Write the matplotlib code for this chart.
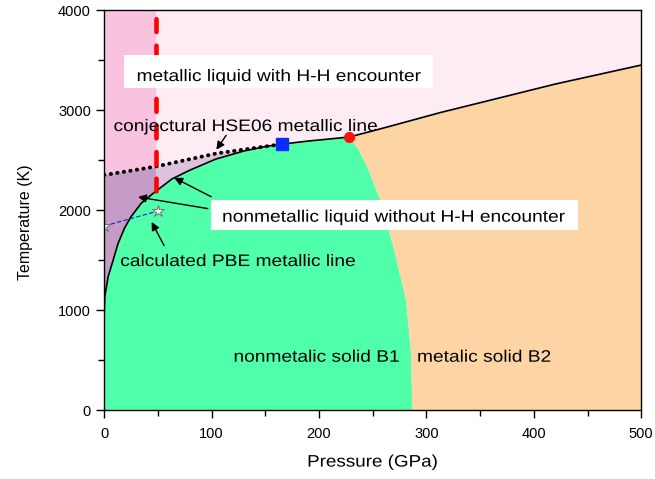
import matplotlib.pyplot as plt
import numpy as np
from matplotlib.patches import Rectangle
from matplotlib.patheffects import AbstractPathEffect
from matplotlib.ticker import MultipleLocator
from matplotlib.transforms import Affine2D

plt.rcParams['font.family'] = ['Liberation Sans', 'DejaVu Sans']


class Widen(AbstractPathEffect):
    """Stretch text horizontally about its centre."""

    def __init__(self, sx=1.15):
        super().__init__()
        self.sx = sx

    def draw_path(self, renderer, gc, tpath, affine, rgbFace=None):
        ext = tpath.get_extents(affine)
        cx = 0.5 * (ext.x0 + ext.x1)
        wide = Affine2D().translate(-cx, 0).scale(self.sx, 1).translate(cx, 0)
        renderer.draw_path(gc, tpath, affine + wide, rgbFace)


# melting curve of the B1 solid (P in GPa, T in K)
melt_p = [0, 0.6, 3.7, 8.4, 13, 19, 25, 34.5, 46, 63, 80, 104, 130, 150, 166, 190, 228]
melt_t = [950, 1133, 1333, 1500, 1667, 1820, 1933, 2067, 2170, 2310, 2400, 2510, 2590,
          2635, 2660, 2690, 2730]

# melting curve of B2 at high pressure
melt2_p = [228, 260, 313, 360, 420, 500]
melt2_t = [2730, 2820, 2975, 3100, 3260, 3450]

# B1-B2 boundary, from the triple point down
b1b2_p = [228, 237, 245, 257, 270, 281, 285.5, 287]
b1b2_t = [2730, 2600, 2430, 2100, 1600, 1100, 600, 0]

# conjectural HSE06 metallic line
hse_p = [0, 48, 104, 166]
hse_t = [2350, 2435, 2565, 2660]

# calculated PBE metallic line
pbe_p = [0, 50]
pbe_t = [1840, 1990]

p_cut = 48           # red dashed line
triple = (228, 2730)
hse_end = (166, 2660)

fig, ax = plt.subplots(figsize=(6.55, 4.79), dpi=100)
fig.subplots_adjust(left=0.159, right=0.979, bottom=0.144, top=0.979)

ax.set_facecolor('#fdecf4')

# deep pink strip at low pressure above the HSE line
xs = np.linspace(0, p_cut, 50)
ax.fill_between(xs, np.interp(xs, hse_p, hse_t), 4000, color='#f9c3df', lw=0)

# purple band between melting curve and HSE line
ax.fill_between(xs, np.interp(xs, melt_p, melt_t), np.interp(xs, hse_p, hse_t),
                color='#c49cc6', lw=0)
xs2 = np.linspace(p_cut, hse_end[0], 80)
ax.fill_between(xs2, np.interp(xs2, melt_p, melt_t), np.interp(xs2, hse_p, hse_t),
                color='#ddc1dd', lw=0)

# B1 solid
green_x = [0] + melt_p + b1b2_p[1:]
green_y = [0] + melt_t + b1b2_t[1:]
ax.fill(green_x, green_y, color='#4fffa9', lw=0)

# B2 solid
orange_x = b1b2_p[::-1] + melt2_p[1:] + [500]
orange_y = b1b2_t[::-1] + melt2_t[1:] + [0]
ax.fill(orange_x, orange_y, color='#fdd5a4', lw=0)

# boundaries
ax.plot(melt_p, melt_t, color='black', lw=1.2)
ax.plot(melt2_p, melt2_t, color='black', lw=1.2)
ax.plot(hse_p, hse_t, color='black', lw=2.8, linestyle=(0, (0.1, 1.6)),
        dash_capstyle='round')
ax.plot(pbe_p, pbe_t, color='#2020c0', lw=0.8, linestyle=(0, (4, 2)))
ax.plot(pbe_p, pbe_t, linestyle='none', marker='*', ms=9, mfc='white',
        mec='#707070', mew=0.7)

t_cut = np.interp(p_cut, melt_p, melt_t)
ax.plot([p_cut, p_cut], [t_cut, 4000], color='#ff0000', lw=3.3,
        linestyle=(0, (2.8, 3)), dash_capstyle='round', clip_on=False)

ax.plot(*hse_end, marker='s', ms=8, color='#0a2cff', ls='none')
ax.plot(*triple, marker='o', ms=7, color='#ff1010', ls='none')

# white label boxes
ax.add_patch(Rectangle((18.7, 3220), 287, 330, fc='white', ec='none', zorder=4))
ax.add_patch(Rectangle((99.8, 1800), 341, 300, fc='white', ec='none', zorder=4))

wide = [Widen(1.15)]
labels = [
    (163, 3290, 'metallic liquid with H-H encounter'),
    (132, 2790, 'conjectural HSE06 metallic line'),
    (270, 1883, 'nonmetallic liquid without H-H encounter'),
    (125, 1440, 'calculated PBE metallic line'),
    (198, 483, 'nonmetalic solid B1'),
    (354, 483, 'metalic solid B2'),
]
for x, y, s in labels:
    ax.text(x, y, s, fontsize=12, ha='center', va='baseline', zorder=5,
            path_effects=wide)

arrow = dict(arrowstyle='-|>', color='black', lw=1.0, mutation_scale=12)
ax.annotate('', xy=(103, 2580), xytext=(115, 2770), arrowprops=arrow)
ax.annotate('', xy=(63, 2335), xytext=(102, 2120), arrowprops=arrow)
ax.annotate('', xy=(29, 2135), xytext=(99, 2010), arrowprops=arrow)
ax.annotate('', xy=(43, 1905), xytext=(57, 1620), arrowprops=arrow)

ax.set_xlim(0, 500)
ax.set_ylim(0, 4000)
ax.xaxis.set_major_locator(MultipleLocator(100))
ax.xaxis.set_minor_locator(MultipleLocator(50))
ax.yaxis.set_major_locator(MultipleLocator(1000))
ax.yaxis.set_minor_locator(MultipleLocator(500))
ax.tick_params(which='both', direction='out', top=False, right=False,
               labelsize=10.5)
ax.tick_params(which='major', length=6, width=1)
ax.tick_params(which='minor', length=4, width=1)
ax.tick_params(axis='x', which='major', pad=6)
for s in ax.spines.values():
    s.set_linewidth(1.0)

ax.set_xlabel('Pressure (GPa)', fontsize=12, labelpad=10,
              path_effects=[Widen(1.13)])
ax.set_ylabel('Temperature (K)', fontsize=11.5)
ax.yaxis.set_label_coords(-0.132, 0.47)

fig.savefig('out.png', dpi=100)
